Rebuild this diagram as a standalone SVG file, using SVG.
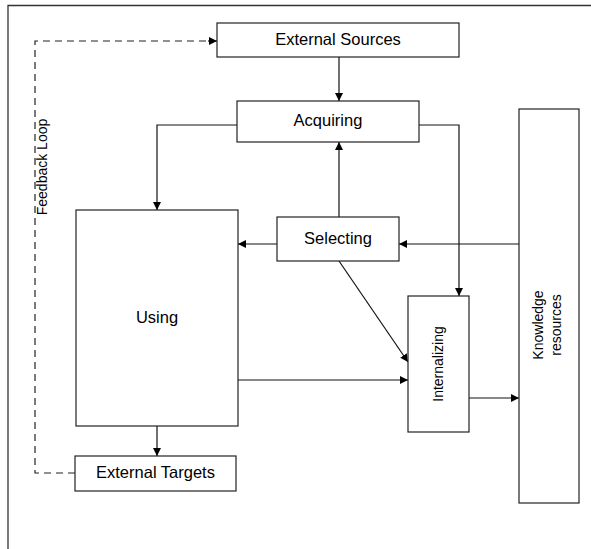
<svg xmlns="http://www.w3.org/2000/svg" width="591" height="549" viewBox="0 0 591 549">
<style>
.box{fill:#fff;stroke:#222;stroke-width:1.2}
.lbl{font-family:"Liberation Sans",Arial,sans-serif;font-size:16.5px;fill:#000;text-anchor:middle}
.vlbl{font-family:"Liberation Sans",Arial,sans-serif;font-size:14px;fill:#000;text-anchor:middle}
.con{fill:none;stroke:#111;stroke-width:1.2}
.dash{fill:none;stroke:#222;stroke-width:1.2;stroke-dasharray:7 5}
</style>
<defs>
<marker id="ah" viewBox="0 0 10 10" refX="10" refY="5" markerWidth="8" markerHeight="8" markerUnits="userSpaceOnUse" orient="auto">
<path d="M0,0 L10,5 L0,10 Z" fill="#000"/>
</marker>
</defs>
<rect width="591" height="549" fill="#fff"/>
<g id="frame">
<path d="M8,549 V5.5 H591" fill="none" stroke="#333" stroke-width="1.3"/>
</g>
<g id="connectors">
<path class="dash" d="M75,473 H35 V41 H208"/>
<path d="M208,41 H217" class="con" marker-end="url(#ah)"/>
<path class="con" d="M339,57 V101" marker-end="url(#ah)"/>
<path class="con" d="M237,125 H157 V210" marker-end="url(#ah)"/>
<path class="con" d="M419,125 H459 V296" marker-end="url(#ah)"/>
<path class="con" d="M339,217 V142" marker-end="url(#ah)"/>
<path class="con" d="M519,244 H399" marker-end="url(#ah)"/>
<path class="con" d="M277,244 H238" marker-end="url(#ah)"/>
<path class="con" d="M339,261 L408,362" marker-end="url(#ah)"/>
<path class="con" d="M238,380 H408" marker-end="url(#ah)"/>
<path class="con" d="M469,398 H519" marker-end="url(#ah)"/>
<path class="con" d="M157,426 V456" marker-end="url(#ah)"/>
</g>
<g id="external-sources">
<rect class="box" x="217" y="23" width="242" height="34"/>
<text class="lbl" x="338" y="45">External Sources</text>
</g>
<g id="acquiring">
<rect class="box" x="237" y="101" width="182" height="41"/>
<text class="lbl" x="328" y="126">Acquiring</text>
</g>
<g id="selecting">
<rect class="box" x="277" y="217" width="122" height="44"/>
<text class="lbl" x="338" y="244">Selecting</text>
</g>
<g id="using">
<rect class="box" x="76" y="210" width="162" height="216"/>
<text class="lbl" x="157" y="323">Using</text>
</g>
<g id="internalizing">
<rect class="box" x="408" y="296" width="61" height="136"/>
<text class="vlbl" transform="translate(443,364) rotate(-90)">Internalizing</text>
</g>
<g id="knowledge-resources">
<rect class="box" x="519" y="109" width="60" height="394"/>
<text class="vlbl" transform="translate(543,325) rotate(-90)">Knowledge</text>
<text class="vlbl" transform="translate(561,325) rotate(-90)">resources</text>
</g>
<g id="external-targets">
<rect class="box" x="75" y="456" width="161" height="35"/>
<text class="lbl" x="155.5" y="478">External Targets</text>
</g>
<g id="feedback-label">
<text class="vlbl" transform="translate(47,167) rotate(-90)">Feedback Loop</text>
</g>
</svg>
